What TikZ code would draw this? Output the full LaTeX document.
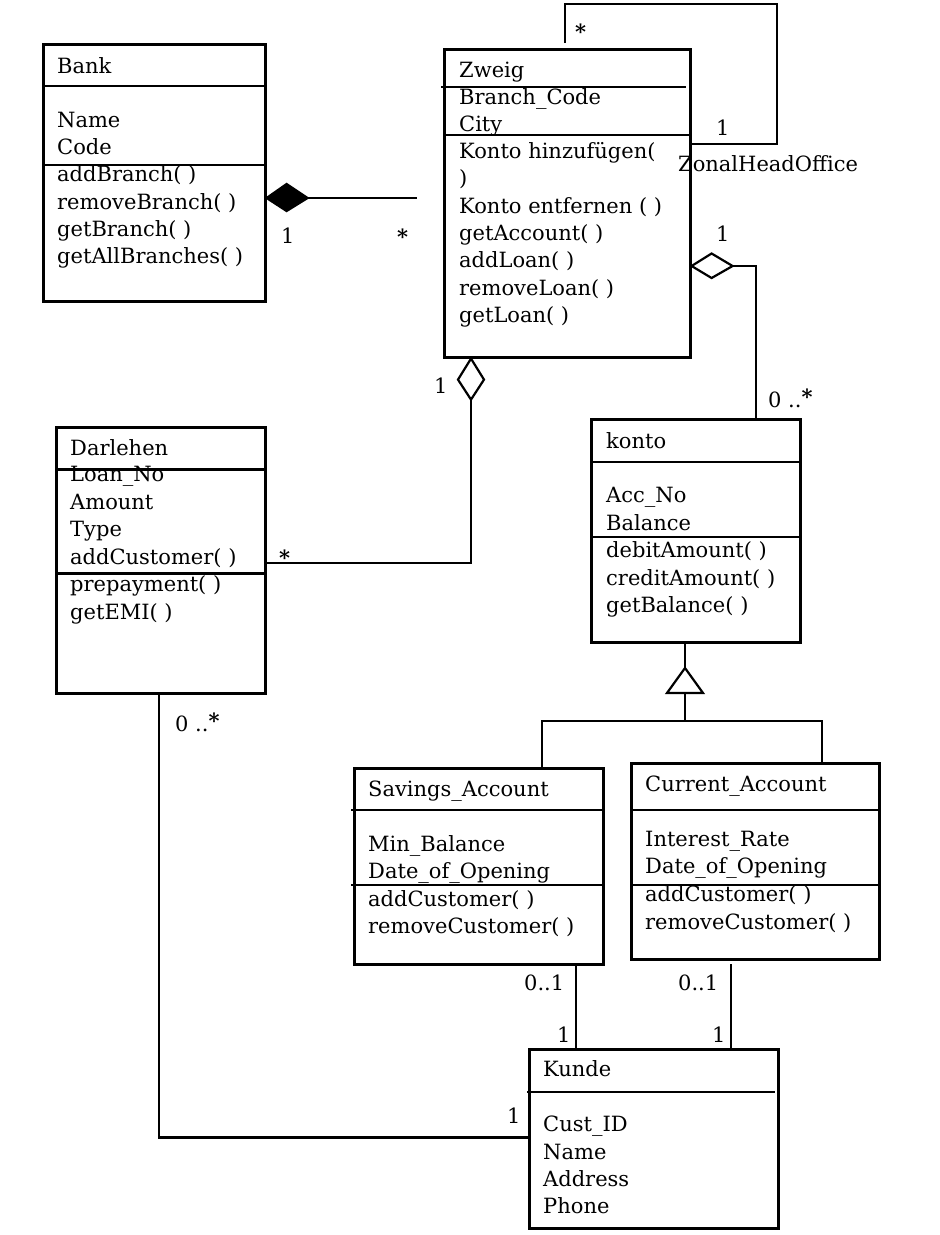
\documentclass[tikz,border=0pt]{standalone}
\usepackage{fontspec}
\setmainfont{DejaVu Serif}
\usetikzlibrary{calc}
\newcommand{\myast}{\textbf{*}}
\newcommand{\myupast}{\raisebox{3pt}{\textbf{*}}}
\tikzset{
  box/.style={draw, line width=2.6pt, inner sep=0pt, anchor=north west},
  sep/.style={line width=2.4pt},
  txt/.style={anchor=base west, inner sep=0pt, font=\fontsize{21}{26}\selectfont},
  conn/.style={line width=2.2pt},
  mult/.style={anchor=base west, inner sep=0pt, font=\fontsize{21}{26}\selectfont},
}
\begin{document}
\begin{tikzpicture}[x=1pt,y=-1pt]
\useasboundingbox[fill=white] (0,0) rectangle (940,1235);

% ---------- Bank ----------
\node[box, minimum width=222pt, minimum height=257pt] (bank) at (42,43) {};
\draw[sep] (bank.west |- 0,86) -- (bank.east |- 0,86);
\draw[sep] (bank.west |- 0,165) -- (bank.east |- 0,165);
\node[txt] (bankT) at (57,73) {Bank};
\foreach \t [count=\i from 0] in {Name,Code,addBranch( ),removeBranch( ),getBranch( ),getAllBranches( )}
  \node[txt] (bank-\i) at (57,127.7+27.1*\i) {\t};

% ---------- Zweig ----------
\node[box, minimum width=246pt, minimum height=308pt] (zweig) at (443,48) {};
\draw[sep] (441,87) -- (686,87);
\draw[sep] (zweig.west |- 0,135) -- (zweig.east |- 0,135);
\node[txt] (zweigT) at (459,77.3) {Zweig};
\foreach \t [count=\i from 0] in {Branch\_Code,City,Konto hinzufügen(,),Konto entfernen ( ),getAccount( ),addLoan( ),removeLoan( ),getLoan( )}
  \node[txt] (zweig-\i) at (459,104+27.3*\i) {\t};

% ---------- Darlehen ----------
\node[box, minimum width=209pt, minimum height=266pt] (darl) at (55,426) {};
\draw[sep] (darl.west |- 0,469.5) -- (darl.east |- 0,469.5);
\draw[sep] (darl.west |- 0,573.5) -- (darl.east |- 0,573.5);
\node[txt] (darlT) at (70,455) {Darlehen};
\foreach \t [count=\i from 0] in {Loan\_No,Amount,Type,addCustomer( ),prepayment( ),getEMI( )}
  \node[txt] (darl-\i) at (70,481.7+27.5*\i) {\t};

% ---------- konto ----------
\node[box, minimum width=209pt, minimum height=223pt] (konto) at (590,418) {};
\draw[sep] (konto.west |- 0,462) -- (konto.east |- 0,462);
\draw[sep] (konto.west |- 0,537) -- (konto.east |- 0,537);
\node[txt] (kontoT) at (606,448.3) {konto};
\foreach \t [count=\i from 0] in {Acc\_No,Balance,debitAmount( ),creditAmount( ),getBalance( )}
  \node[txt] (konto-\i) at (606,502.7+27.5*\i) {\t};

% ---------- Savings_Account ----------
\node[box, minimum width=249pt, minimum height=196pt] (sav) at (353,767) {};
\draw[sep] (351,810) -- (sav.east |- 0,810);
\draw[sep] (351,885) -- (sav.east |- 0,885);
\node[txt] (savT) at (368,796.7) {Savings\_Account};
\foreach \t [count=\i from 0] in {Min\_Balance,Date\_of\_Opening,addCustomer( ),removeCustomer( )}
  \node[txt] (sav-\i) at (368,851.7+27.2*\i) {\t};

% ---------- Current_Account ----------
\node[box, minimum width=248pt, minimum height=196pt] (cur) at (630,762) {};
\draw[sep] (cur.west |- 0,810) -- (cur.east |- 0,810);
\draw[sep] (cur.west |- 0,885) -- (cur.east |- 0,885);
\node[txt] (curT) at (645,791.7) {Current\_Account};
\foreach \t [count=\i from 0] in {Interest\_Rate,Date\_of\_Opening,addCustomer( ),removeCustomer( )}
  \node[txt] (cur-\i) at (645,846+27.8*\i) {\t};

% ---------- Kunde ----------
\node[box, minimum width=249pt, minimum height=179pt] (kunde) at (528,1048) {};
\draw[sep] (527,1092) -- (775,1092);
\node[txt] (kundeT) at (543,1076.7) {Kunde};
\foreach \t [count=\i from 0] in {Cust\_ID,Name,Address,Phone}
  \node[txt] (kunde-\i) at (543,1131.7+27.4*\i) {\t};

% ---------- Bank -- Zweig (composition) ----------
\coordinate (compTip) at (bank.east |- 0,198);
\coordinate (compEnd) at (417,198);
\draw[conn, fill=black, line join=miter] (compTip) -- ++(20,-14) -- ++(21,14) -- ++(-21,13) -- cycle;
\draw[conn] ($(compTip)+(41,0)$) -- (compEnd);
\node[mult] (m1) at (281,243) {1};
\node[mult] (m2) at (397,244) {\myast};

% ---------- Zweig self association ----------
\coordinate (selfA) at (565,43);
\draw[conn] (selfA) -- (565,4) -- (777,4) -- (777,144) -- (zweig.east |- 0,144);
\node[mult] (m3) at (575,39) {\myast};
\node[mult] (m4) at (716,135) {1};
\node[mult] (zho) at (678,171.7) {ZonalHeadOffice};

% ---------- Zweig -- konto (aggregation) ----------
\coordinate (aggTip) at (zweig.east |- 0,266);
\draw[conn, fill=white, line join=miter] (aggTip) -- ++(20,-12.5) -- ++(21,12.5) -- ++(-21,12) -- cycle;
\draw[conn] ($(aggTip)+(41,0)$) -| (konto.north -| 756,0);
\node[mult] (m5) at (716,241.7) {1};
\node[mult] (m6) at (768,407) {0 ..\myupast};

% ---------- Zweig -- Darlehen (aggregation) ----------
\coordinate (agg2Tip) at (zweig.south -| 471,0);
\draw[conn, fill=white, line join=miter] (agg2Tip) -- ++(-13,21) -- ++(13,20) -- ++(13,-20) -- cycle;
\draw[conn] ($(agg2Tip)+(0,41)$) |- (darl.east |- 0,563);
\node[mult] (m7) at (434,393) {1};
\node[mult] (m8) at (279,565) {\myast};

% ---------- Darlehen -- Kunde ----------
\draw[conn] (darl.south -| 159,0) |- (kunde.west |- 0,1137.5);
\node[mult] (m9) at (175,731) {0 ..\myupast};
\node[mult] (m10) at (507,1123.3) {1};

% ---------- Generalization ----------
\coordinate (genTop) at (685,668);
\draw[conn] (konto.south -| 685,0) -- (genTop);
\draw[conn, line join=miter] (genTop) -- (703,693) -- (667,693) -- cycle;
\draw[conn] (685,693) -- (685,721);
\draw[conn] (sav.north -| 542,0) -- (542,721) -- (822,721) -- (cur.north -| 822,0);

% ---------- Accounts -- Kunde ----------
\draw[conn] (sav.south -| 576,0) -- (kunde.north -| 576,0);
\coordinate (curEnd) at (731,964);
\draw[conn] (curEnd) -- (kunde.north -| 731,0);
\node[mult] (m11) at (524,990) {0..1};
\node[mult] (m12) at (557,1042.7) {1};
\node[mult] (m13) at (678,990) {0..1};
\node[mult] (m14) at (712,1042.7) {1};
\end{tikzpicture}
\end{document}
